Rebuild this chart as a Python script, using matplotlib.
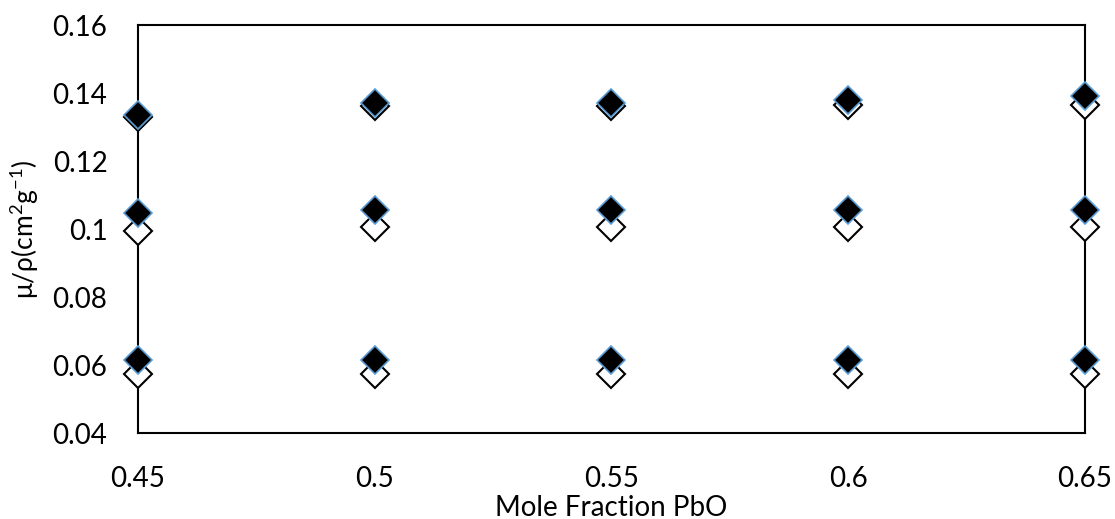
import matplotlib
matplotlib.use("Agg")
import matplotlib.pyplot as plt

x = [0.45, 0.50, 0.55, 0.60, 0.65]

# filled (black) series
filled_high = [0.1334, 0.1370, 0.1370, 0.1378, 0.1390]
filled_mid = [0.1046, 0.1057, 0.1057, 0.1057, 0.1057]
filled_low = [0.0614, 0.0614, 0.0614, 0.0614, 0.0614]

# open series
open_high = [0.1330, 0.1362, 0.1362, 0.1365, 0.1365]
open_mid = [0.0995, 0.1005, 0.1005, 0.1005, 0.1005]
open_low = [0.0575, 0.0575, 0.0575, 0.0575, 0.0575]

xticks = [0.45, 0.5, 0.55, 0.6, 0.65]
xtick_labels = ["0.45", "0.5", "0.55", "0.6", "0.65"]
yticks = [0.04, 0.06, 0.08, 0.1, 0.12, 0.14, 0.16]
ytick_labels = ["0.04", "0.06", "0.08", "0.1", "0.12", "0.14", "0.16"]

plt.rcParams['font.family'] = ['Lato', 'DejaVu Sans']
plt.rcParams['mathtext.fontset'] = 'custom'
plt.rcParams['mathtext.rm'] = 'Lato'
plt.rcParams['mathtext.it'] = 'Lato'

fig = plt.figure(figsize=(11.15, 5.19), dpi=100)
ax = fig.add_axes([0.1238, 0.1657, 0.8492, 0.7861])

ms = 14.5
for ys in (open_high, open_mid, open_low):
    ax.plot(x, ys, linestyle='none', marker='D', markersize=ms,
            markerfacecolor='white', markeredgecolor='black',
            markeredgewidth=1.5, clip_on=False, zorder=3)
for ys in (filled_high, filled_mid, filled_low):
    ax.plot(x, ys, linestyle='none', marker='D', markersize=ms,
            markerfacecolor='black', markeredgecolor='#5b9bd5',
            markeredgewidth=1.2, clip_on=False, zorder=4)

ax.set_xlim(0.45, 0.65)
ax.set_ylim(0.04, 0.16)
ax.set_xticks(xticks)
ax.set_xticklabels(xtick_labels)
ax.set_yticks(yticks)
ax.set_yticklabels(ytick_labels)
ax.tick_params(length=0, labelsize=20)
ax.tick_params(axis='y', pad=22)
ax.tick_params(axis='x', pad=24)
for s in ax.spines.values():
    s.set_linewidth(1.5)
    s.set_color('black')
    s.set_zorder(2)

ax.set_xlabel("Mole Fraction PbO", fontsize=20, labelpad=2)
ax.set_ylabel(r"μ/ρ(cm$^{2}$g$^{-1}$)", fontsize=19, labelpad=8)

fig.savefig("out.png", dpi=100)
